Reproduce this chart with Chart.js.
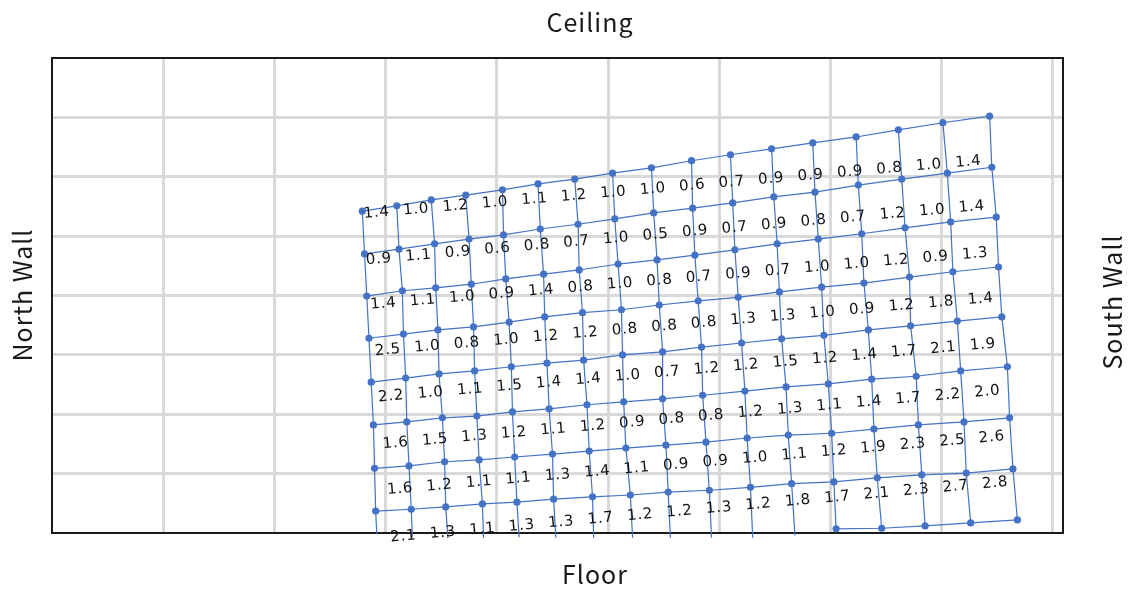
<!DOCTYPE html>
<html>
<head>
<meta charset="utf-8">
<script src="https://cdn.jsdelivr.net/npm/chart.js@4.4.1/dist/chart.umd.min.js"></script>
<style>
  html, body { margin: 0; padding: 0; background: #fff; }
  #wrap { width: 1131px; height: 592px; }
</style>
</head>
<body>
<div id="wrap"><canvas id="meshChart" width="1131" height="592"></canvas></div>
<script>
// mesh nodes in units of the background grid (x: north -> south, y: floor -> ceiling)
// one array per row of nodes, top row first, 17 nodes each
const rowX = [
  [2.79, 3.10, 3.41, 3.72, 4.05, 4.37, 4.70, 5.04, 5.39, 5.75, 6.10, 6.47, 6.84, 7.23, 7.61, 8.01, 8.43],
  [2.81, 3.12, 3.44, 3.75, 4.06, 4.39, 4.73, 5.06, 5.41, 5.76, 6.12, 6.49, 6.86, 7.25, 7.64, 8.05, 8.45],
  [2.83, 3.15, 3.45, 3.77, 4.08, 4.42, 4.74, 5.09, 5.44, 5.78, 6.14, 6.52, 6.89, 7.28, 7.67, 8.08, 8.49],
  [2.85, 3.16, 3.47, 3.79, 4.11, 4.43, 4.77, 5.12, 5.46, 5.81, 6.17, 6.54, 6.92, 7.30, 7.71, 8.10, 8.51],
  [2.87, 3.18, 3.48, 3.80, 4.13, 4.45, 4.78, 5.13, 5.49, 5.84, 6.20, 6.56, 6.94, 7.34, 7.72, 8.14, 8.54],
  [2.89, 3.19, 3.51, 3.82, 4.14, 4.47, 4.81, 5.14, 5.49, 5.85, 6.23, 6.60, 6.98, 7.37, 7.77, 8.17, 8.59],
  [2.90, 3.21, 3.53, 3.84, 4.16, 4.50, 4.83, 5.16, 5.52, 5.88, 6.25, 6.62, 7.01, 7.39, 7.79, 8.20, 8.61],
  [2.91, 3.23, 3.54, 3.87, 4.18, 4.51, 4.86, 5.20, 5.54, 5.91, 6.28, 6.65, 7.03, 7.42, 7.82, 8.22, 8.64]
];
const rowY = [
  [5.42, 5.51, 5.61, 5.69, 5.78, 5.88, 5.96, 6.06, 6.15, 6.27, 6.37, 6.47, 6.57, 6.67, 6.79, 6.91, 7.02],
  [4.70, 4.78, 4.87, 4.95, 5.02, 5.12, 5.20, 5.29, 5.39, 5.47, 5.56, 5.66, 5.74, 5.86, 5.96, 6.06, 6.16],
  [3.99, 4.08, 4.13, 4.19, 4.28, 4.36, 4.43, 4.53, 4.60, 4.68, 4.77, 4.87, 4.95, 5.04, 5.14, 5.24, 5.32],
  [3.28, 3.35, 3.42, 3.47, 3.55, 3.64, 3.71, 3.76, 3.84, 3.91, 3.97, 4.06, 4.14, 4.21, 4.31, 4.40, 4.48],
  [2.54, 2.61, 2.68, 2.73, 2.80, 2.86, 2.91, 3.00, 3.05, 3.13, 3.20, 3.27, 3.33, 3.42, 3.49, 3.57, 3.64],
  [1.82, 1.87, 1.94, 1.97, 2.04, 2.09, 2.16, 2.21, 2.26, 2.32, 2.39, 2.46, 2.51, 2.59, 2.64, 2.73, 2.80],
  [1.09, 1.13, 1.20, 1.23, 1.28, 1.33, 1.38, 1.43, 1.48, 1.53, 1.60, 1.65, 1.68, 1.75, 1.82, 1.87, 1.94],
  [0.37, 0.40, 0.44, 0.49, 0.52, 0.57, 0.61, 0.64, 0.69, 0.72, 0.77, 0.83, 0.86, 0.93, 0.98, 1.01, 1.08]
];
// columns 0-11 run out just below the floor without a last node
const cutX = [2.92, 3.24, 3.56, 3.88, 4.20, 4.53, 4.87, 5.22, 5.56, 5.93, 6.30, 6.68];
const cutY = [-0.02, -0.07, -0.09, -0.08, -0.07, -0.08, -0.08, -0.08, -0.08, -0.08, -0.08, -0.04];
// last row of nodes, only present for columns 12-16
const floorX = [7.05, 7.46, 7.85, 8.26, 8.68];
const floorY = [0.07, 0.08, 0.12, 0.17, 0.22];

// readings in each cell, top row first, north to south
const readings = [
  [1.4, 1.0, 1.2, 1.0, 1.1, 1.2, 1.0, 1.0, 0.6, 0.7, 0.9, 0.9, 0.9, 0.8, 1.0, 1.4],
  [0.9, 1.1, 0.9, 0.6, 0.8, 0.7, 1.0, 0.5, 0.9, 0.7, 0.9, 0.8, 0.7, 1.2, 1.0, 1.4],
  [1.4, 1.1, 1.0, 0.9, 1.4, 0.8, 1.0, 0.8, 0.7, 0.9, 0.7, 1.0, 1.0, 1.2, 0.9, 1.3],
  [2.5, 1.0, 0.8, 1.0, 1.2, 1.2, 0.8, 0.8, 0.8, 1.3, 1.3, 1.0, 0.9, 1.2, 1.8, 1.4],
  [2.2, 1.0, 1.1, 1.5, 1.4, 1.4, 1.0, 0.7, 1.2, 1.2, 1.5, 1.2, 1.4, 1.7, 2.1, 1.9],
  [1.6, 1.5, 1.3, 1.2, 1.1, 1.2, 0.9, 0.8, 0.8, 1.2, 1.3, 1.1, 1.4, 1.7, 2.2, 2.0],
  [1.6, 1.2, 1.1, 1.1, 1.3, 1.4, 1.1, 0.9, 0.9, 1.0, 1.1, 1.2, 1.9, 2.3, 2.5, 2.6],
  [2.1, 1.3, 1.1, 1.3, 1.3, 1.7, 1.2, 1.2, 1.3, 1.2, 1.8, 1.7, 2.1, 2.3, 2.7, 2.8]
];

const BLUE = '#4472c4';
const LABEL_FONT = '15px "DejaVu Sans", Verdana, sans-serif';
const WALL_FONT = '25px "Noto Sans CJK JP", "Noto Sans", sans-serif';

// build the datasets: node rows (with markers) then the column lines
const datasets = [];
rowX.forEach((xs, r) => {
  datasets.push({
    data: xs.map((x, i) => ({ x: x, y: rowY[r][i] })),
    pointRadius: 3.6
  });
});
datasets.push({
  data: floorX.map((x, i) => ({ x: x, y: floorY[i] })),
  pointRadius: 3.6
});
for (let c = 0; c < 17; c++) {
  const pts = rowX.map((xs, r) => ({ x: xs[c], y: rowY[r][c] }));
  if (c < cutX.length) pts.push({ x: cutX[c], y: cutY[c] });
  else pts.push({ x: floorX[c - cutX.length], y: floorY[c - cutX.length] });
  datasets.push({ data: pts, pointRadius: 0 });
}
datasets.forEach(d => {
  d.showLine = true;
  d.borderColor = BLUE;
  d.borderWidth = 1.2;
  d.backgroundColor = BLUE;
  d.pointBorderWidth = 0;
  d.pointHoverRadius = 0;
  d.clip = false;
});

// black frame round the plot area
const frame = {
  id: 'frame',
  beforeDatasetsDraw(chart) {
    const { ctx, chartArea: a } = chart;
    ctx.save();
    ctx.strokeStyle = '#1a1a1a';
    ctx.lineWidth = 2;
    ctx.strokeRect(a.left, a.top, a.right - a.left, a.bottom - a.top);
    ctx.restore();
  }
};

// readings written along slightly tilted rows
const cellLabels = {
  id: 'cellLabels',
  afterDatasetsDraw(chart, args, opts) {
    const { ctx, scales: { x, y } } = chart;
    ctx.save();
    ctx.font = LABEL_FONT;
    ctx.letterSpacing = '0.8px';
    ctx.fillStyle = '#111';
    ctx.textAlign = 'center';
    ctx.textBaseline = 'middle';
    readings.forEach((row, r) => {
      const x0 = x.getPixelForValue(opts.starts[r][0]), y0 = y.getPixelForValue(opts.starts[r][1]);
      const x1 = x.getPixelForValue(opts.ends[r][0]), y1 = y.getPixelForValue(opts.ends[r][1]);
      const ang = Math.atan2(y1 - y0, x1 - x0);
      row.forEach((v, i) => {
        const t = i / (row.length - 1);
        ctx.save();
        ctx.translate(x0 + (x1 - x0) * t, y0 + (y1 - y0) * t);
        ctx.rotate(ang);
        ctx.fillText(v.toFixed(1), 0, 0);
        ctx.restore();
      });
    });
    ctx.restore();
  }
};

// wall names round the frame
const wallNames = {
  id: 'wallNames',
  afterDraw(chart, args, opts) {
    const ctx = chart.ctx;
    ctx.save();
    ctx.font = WALL_FONT;
    ctx.letterSpacing = '1px';
    ctx.fillStyle = '#1a1a1a';
    ctx.textAlign = 'center';
    ctx.textBaseline = 'middle';
    opts.items.forEach(it => {
      ctx.save();
      ctx.translate(it.x, it.y);
      ctx.rotate(it.rot);
      ctx.fillText(it.text, 0, 0);
      ctx.restore();
    });
    ctx.restore();
  }
};

const hideEdge = max => c => (c.tick.value <= 0 || c.tick.value >= max) ? 'rgba(0,0,0,0)' : '#d9d9d9';

new Chart(document.getElementById('meshChart'), {
  type: 'scatter',
  data: { datasets: datasets },
  plugins: [frame, cellLabels, wallNames],
  options: {
    responsive: false,
    animation: false,
    events: [],
    layout: { padding: { left: 52, top: 58, right: 68, bottom: 59 } },
    scales: {
      x: {
        type: 'linear', min: 0, max: 9.09,
        ticks: { display: false, stepSize: 1, includeBounds: false },
        grid: { color: hideEdge(9.09), lineWidth: 3, drawTicks: false },
        border: { display: false }
      },
      y: {
        type: 'linear', min: 0, max: 8,
        ticks: { display: false, stepSize: 1, includeBounds: false },
        grid: { color: hideEdge(8), lineWidth: 3, drawTicks: false },
        border: { display: false }
      }
    },
    plugins: {
      legend: { display: false },
      tooltip: { enabled: false },
      cellLabels: {
        starts: [[2.92, 5.39], [2.94, 4.61], [2.98, 3.86], [3.02, 3.08], [3.05, 2.30], [3.09, 1.51], [3.13, 0.74], [3.16, -0.06]],
        ends: [[8.24, 6.25], [8.27, 5.49], [8.30, 4.70], [8.35, 3.94], [8.37, 3.17], [8.41, 2.38], [8.45, 1.61], [8.48, 0.84]]
      },
      wallNames: {
        items: [
          { text: 'Ceiling', x: 590, y: 22, rot: 0 },
          { text: 'Floor', x: 595, y: 574, rot: 0 },
          { text: 'North Wall', x: 22, y: 295, rot: -Math.PI / 2 },
          { text: 'South Wall', x: 1112, y: 302, rot: -Math.PI / 2 }
        ]
      }
    }
  }
});
</script>
</body>
</html>
